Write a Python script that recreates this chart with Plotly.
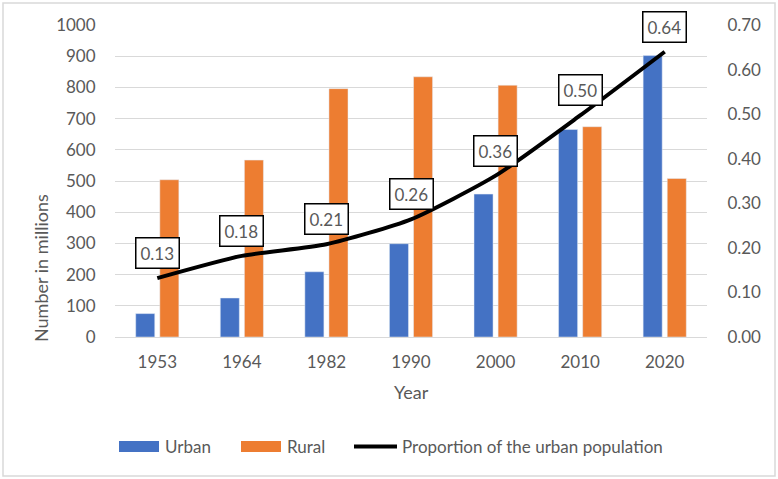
import plotly.graph_objects as go

# Data
years = ['1953', '1964', '1982', '1990', '2000', '2010', '2020']
urban = [75, 125, 209, 299, 458, 665, 902]
rural = [504, 567, 796, 834, 807, 674, 508]
proportion = [0.132, 0.182, 0.208, 0.264, 0.362, 0.497, 0.640]
prop_labels = ['0.13', '0.18', '0.21', '0.26', '0.36', '0.50', '0.64']

font_name = 'Lato'
grey = '#595959'
blue, orange = '#4472C4', '#ED7D31'

W, H = 778, 479
ml, mr, mt, mb = 115, 71, 25, 142
pw, ph = W - ml - mr, H - mt - mb


def px(x):
    # page pixel -> paper x
    return (x - ml) / pw


def py(y):
    # page pixel -> paper y
    return (mt + ph - y) / ph


fig = go.Figure()
fig.add_trace(go.Bar(x=years, y=urban, name='Urban', marker_color=blue))
fig.add_trace(go.Bar(x=years, y=rural, name='Rural', marker_color=orange))
fig.add_trace(go.Scatter(x=years, y=proportion, yaxis='y2', mode='lines',
                         name='Proportion of the urban population',
                         line=dict(color='black', width=4, shape='spline', smoothing=0.6)))

# Boxed data labels above the line (category index as x)
for i, (val, lab) in enumerate(zip(proportion, prop_labels)):
    fig.add_annotation(x=i, y=val, yref='y2', text=lab, showarrow=False,
                       yshift=25, bgcolor='white', bordercolor='black',
                       borderwidth=1.5, borderpad=4,
                       font=dict(family=font_name, size=17, color=grey))

# light outer border of the chart area
fig.add_shape(type='rect', xref='paper', yref='paper',
              x0=px(3), x1=px(775), y0=py(476), y1=py(3),
              line=dict(color='#D9D9D9', width=1.5), layer='below')

# axis titles
fig.add_annotation(xref='paper', yref='paper', x=px(41), y=py(268),
                   xanchor='center', yanchor='middle',
                   text='Number in millions', textangle=-90, showarrow=False,
                   font=dict(size=18, color=grey))
fig.add_annotation(xref='paper', yref='paper', x=px(411), y=py(392),
                   xanchor='center', yanchor='middle',
                   text='Year', showarrow=False, font=dict(size=18, color=grey))

# legend drawn like the Excel one
fig.add_shape(type='rect', xref='paper', yref='paper', x0=px(119), x1=px(159),
              y0=py(452), y1=py(441), fillcolor=blue, line_width=0)
fig.add_shape(type='rect', xref='paper', yref='paper', x0=px(241), x1=px(281),
              y0=py(452), y1=py(441), fillcolor=orange, line_width=0)
fig.add_shape(type='line', xref='paper', yref='paper', x0=px(354), x1=px(397),
              y0=py(446.5), y1=py(446.5), line=dict(color='black', width=4))
legend_texts = [('Urban', 163), ('Rural', 285), ('Proportion of the urban population', 400)]
for txt, x0 in legend_texts:
    fig.add_annotation(xref='paper', yref='paper', x=px(x0), y=py(446.5),
                       xanchor='left', yanchor='middle', text=txt, showarrow=False,
                       font=dict(size=17, color=grey))

fig.update_layout(
    width=W, height=H,
    margin=dict(l=ml, r=mr, t=mt, b=mb),
    plot_bgcolor='white', paper_bgcolor='white',
    barmode='group', bargap=0.43, bargroupgap=0.21,
    font=dict(family=font_name, size=17, color=grey),
    showlegend=False,
    xaxis=dict(type='category', range=[-0.5, 6.5],
               showgrid=False, showline=True, linecolor='#D9D9D9',
               ticks='outside', ticklen=10, tickcolor='white'),
    yaxis=dict(range=[0, 1000], dtick=100, gridcolor='#D9D9D9',
               zeroline=False, ticks='outside', ticklen=15, tickcolor='white'),
    yaxis2=dict(overlaying='y', side='right', range=[0, 0.7], dtick=0.1,
                tickformat='.2f', showgrid=False, zeroline=False,
                ticks='outside', ticklen=16, tickcolor='white'),
)

# remove default page margin so the chart sits at the window origin
fig.write_html('out.html', config={'displayModeBar': False},
               post_script="document.body.style.margin='0';")
